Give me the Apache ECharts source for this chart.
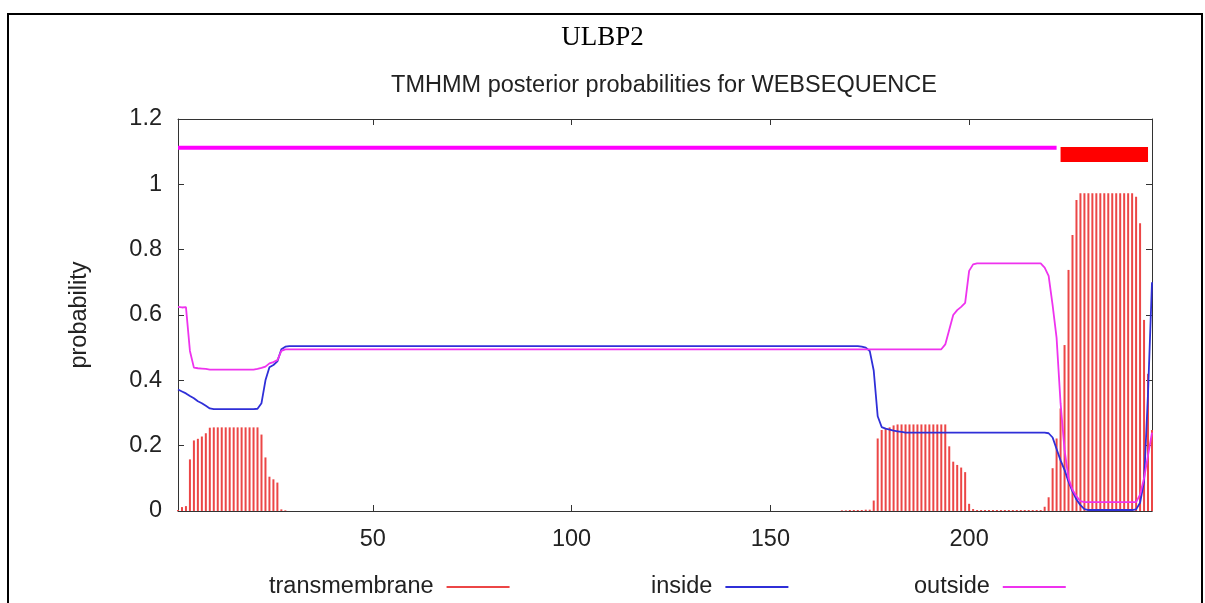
<!DOCTYPE html>
<html>
<head>
<meta charset="utf-8">
<script src="https://cdn.jsdelivr.net/npm/echarts@6/dist/echarts.min.js"></script>
<style>html,body{margin:0;padding:0;background:#fff}#c{width:1205px;height:603px}</style>
</head>
<body>
<div id="c"></div>
<script>
const chartTitle = 'ULBP2';
const chartSubtitle = 'TMHMM posterior probabilities for WEBSEQUENCE';
const yAxisName = 'probability';
const seqStart = 1;
const seqEnd = 246;
const xTickValues = [50, 100, 150, 200];
const seriesNames = ['transmembrane', 'inside', 'outside'];

// posterior probabilities, residues 1..246
const transmembrane = [
0.003,0.012,0.015,0.158,0.216,0.221,0.228,0.238,0.255,0.256,
0.256,0.256,0.256,0.256,0.256,0.256,0.256,0.256,0.256,0.256,
0.256,0.234,0.164,0.105,0.097,0.087,0.005,0.002,0,0,
0,0,0,0,0,0,0,0,0,0,
0,0,0,0,0,0,0,0,0,0,
0,0,0,0,0,0,0,0,0,0,
0,0,0,0,0,0,0,0,0,0,
0,0,0,0,0,0,0,0,0,0,
0,0,0,0,0,0,0,0,0,0,
0,0,0,0,0,0,0,0,0,0,
0,0,0,0,0,0,0,0,0,0,
0,0,0,0,0,0,0,0,0,0,
0,0,0,0,0,0,0,0,0,0,
0,0,0,0,0,0,0,0,0,0,
0,0,0,0,0,0,0,0,0,0,
0,0,0,0,0,0,0,0,0,0,
0,0,0,0,0,0,0,0.002,0.002,0.003,
0.003,0.003,0.003,0.004,0.004,0.032,0.222,0.248,0.252,0.256,
0.262,0.265,0.265,0.265,0.265,0.265,0.265,0.265,0.265,0.265,
0.265,0.265,0.265,0.265,0.198,0.151,0.141,0.133,0.119,0.022,
0.006,0.003,0.003,0.003,0.003,0.003,0.003,0.003,0.003,0.003,
0.003,0.003,0.003,0.003,0.003,0.003,0.003,0.003,0.013,0.042,
0.131,0.222,0.314,0.508,0.738,0.845,0.952,0.973,0.973,0.973,
0.973,0.973,0.973,0.973,0.973,0.973,0.973,0.973,0.973,0.973,
0.973,0.962,0.881,0.585,0.420,0.248
];

const inside = [
0.372,0.366,0.360,0.352,0.345,0.336,0.330,0.322,0.314,0.312,
0.312,0.312,0.312,0.312,0.312,0.312,0.312,0.312,0.312,0.312,
0.313,0.330,0.400,0.440,0.447,0.458,0.495,0.503,0.505,0.505,
0.505,0.505,0.505,0.505,0.505,0.505,0.505,0.505,0.505,0.505,
0.505,0.505,0.505,0.505,0.505,0.505,0.505,0.505,0.505,0.505,
0.505,0.505,0.505,0.505,0.505,0.505,0.505,0.505,0.505,0.505,
0.505,0.505,0.505,0.505,0.505,0.505,0.505,0.505,0.505,0.505,
0.505,0.505,0.505,0.505,0.505,0.505,0.505,0.505,0.505,0.505,
0.505,0.505,0.505,0.505,0.505,0.505,0.505,0.505,0.505,0.505,
0.505,0.505,0.505,0.505,0.505,0.505,0.505,0.505,0.505,0.505,
0.505,0.505,0.505,0.505,0.505,0.505,0.505,0.505,0.505,0.505,
0.505,0.505,0.505,0.505,0.505,0.505,0.505,0.505,0.505,0.505,
0.505,0.505,0.505,0.505,0.505,0.505,0.505,0.505,0.505,0.505,
0.505,0.505,0.505,0.505,0.505,0.505,0.505,0.505,0.505,0.505,
0.505,0.505,0.505,0.505,0.505,0.505,0.505,0.505,0.505,0.505,
0.505,0.505,0.505,0.505,0.505,0.505,0.505,0.505,0.505,0.505,
0.505,0.505,0.505,0.505,0.505,0.505,0.505,0.505,0.505,0.505,
0.505,0.505,0.503,0.500,0.490,0.430,0.290,0.257,0.252,0.249,
0.246,0.244,0.242,0.240,0.240,0.240,0.240,0.240,0.240,0.240,
0.240,0.240,0.240,0.240,0.240,0.240,0.240,0.240,0.240,0.240,
0.240,0.240,0.240,0.240,0.240,0.240,0.240,0.240,0.240,0.240,
0.240,0.240,0.240,0.240,0.240,0.240,0.240,0.240,0.240,0.238,
0.225,0.190,0.155,0.126,0.090,0.060,0.035,0.018,0.006,0.003,
0.003,0.003,0.003,0.003,0.003,0.003,0.003,0.003,0.003,0.003,
0.003,0.005,0.025,0.090,0.360,0.700
];

const outside = [
0.625,0.623,0.624,0.490,0.439,0.437,0.436,0.435,0.433,0.433,
0.433,0.433,0.433,0.433,0.433,0.433,0.433,0.433,0.433,0.433,
0.435,0.438,0.442,0.452,0.456,0.462,0.490,0.495,0.495,0.495,
0.495,0.495,0.495,0.495,0.495,0.495,0.495,0.495,0.495,0.495,
0.495,0.495,0.495,0.495,0.495,0.495,0.495,0.495,0.495,0.495,
0.495,0.495,0.495,0.495,0.495,0.495,0.495,0.495,0.495,0.495,
0.495,0.495,0.495,0.495,0.495,0.495,0.495,0.495,0.495,0.495,
0.495,0.495,0.495,0.495,0.495,0.495,0.495,0.495,0.495,0.495,
0.495,0.495,0.495,0.495,0.495,0.495,0.495,0.495,0.495,0.495,
0.495,0.495,0.495,0.495,0.495,0.495,0.495,0.495,0.495,0.495,
0.495,0.495,0.495,0.495,0.495,0.495,0.495,0.495,0.495,0.495,
0.495,0.495,0.495,0.495,0.495,0.495,0.495,0.495,0.495,0.495,
0.495,0.495,0.495,0.495,0.495,0.495,0.495,0.495,0.495,0.495,
0.495,0.495,0.495,0.495,0.495,0.495,0.495,0.495,0.495,0.495,
0.495,0.495,0.495,0.495,0.495,0.495,0.495,0.495,0.495,0.495,
0.495,0.495,0.495,0.495,0.495,0.495,0.495,0.495,0.495,0.495,
0.495,0.495,0.495,0.495,0.495,0.495,0.495,0.495,0.495,0.495,
0.495,0.495,0.495,0.495,0.495,0.495,0.495,0.495,0.495,0.495,
0.495,0.495,0.495,0.495,0.495,0.495,0.495,0.495,0.495,0.495,
0.495,0.495,0.495,0.510,0.555,0.600,0.615,0.625,0.637,0.735,
0.755,0.758,0.758,0.758,0.758,0.758,0.758,0.758,0.758,0.758,
0.758,0.758,0.758,0.758,0.758,0.758,0.758,0.758,0.745,0.720,
0.630,0.530,0.330,0.187,0.100,0.065,0.045,0.030,0.027,0.027,
0.027,0.027,0.027,0.027,0.027,0.027,0.027,0.027,0.027,0.027,
0.027,0.027,0.050,0.100,0.170,0.240
];

// predicted topology bars drawn above the curves
const topoOutsideRange = [1, 222];
const topoOutsideLevel = 1.112;
const topoTMRange = [223, 245];
const topoTMLevel = 1.091;

const FONT = 'Liberation Sans, Arial, sans-serif';
const TXT = '#222';
const FS = 23.5;
const toPairs = arr => arr.map((v, i) => [seqStart + i, v]);

const chart = echarts.init(document.getElementById('c'), null, {renderer: 'canvas'});
const legendCommon = {
  orient: 'horizontal', align: 'right', icon: 'rect', itemWidth: 63, itemHeight: 2,
  padding: 0, top: 575, selectedMode: false,
  textStyle: {fontFamily: FONT, fontSize: FS, color: TXT, padding: [0, 8, 0, 0]}
};
const option = {
  animation: false,
  backgroundColor: '#fff',
  title: [
    {text: chartTitle, left: 'center', top: 24, padding: 0,
     textStyle: {fontFamily: 'Liberation Serif, Times New Roman, serif', fontSize: 27, fontWeight: 'normal', color: '#000'}},
    {text: chartSubtitle, left: 664, textAlign: 'center', top: 74, padding: 0,
     textStyle: {fontFamily: FONT, fontSize: FS, fontWeight: 'normal', color: TXT}}
  ],
  legend: [
    Object.assign({}, legendCommon, {left: 269, data: [seriesNames[0]]}),
    Object.assign({}, legendCommon, {left: 651, data: [seriesNames[1]]}),
    Object.assign({}, legendCommon, {left: 914, data: [seriesNames[2]]})
  ],
  graphic: [{
    type: 'rect', silent: true, z: 100,
    shape: {x: 8, y: 14, width: 1194, height: 700},
    style: {fill: 'none', stroke: '#000', lineWidth: 2}
  }],
  grid: {left: 178, right: 53, top: 119, bottom: 92, containLabel: false},
  xAxis: [
    {type: 'value', min: seqStart, max: seqEnd, position: 'bottom',
     axisLine: {show: true, onZero: false, lineStyle: {color: '#333', width: 1}},
     axisTick: {show: true, inside: true, length: 6, customValues: xTickValues, lineStyle: {color: '#333'}},
     axisLabel: {show: true, customValues: xTickValues, margin: 17, fontFamily: FONT, fontSize: FS, color: TXT},
     splitLine: {show: false}},
    {type: 'value', min: seqStart, max: seqEnd, position: 'top',
     axisLine: {show: true, onZero: false, lineStyle: {color: '#333', width: 1}},
     axisTick: {show: true, inside: true, length: 6, customValues: xTickValues, lineStyle: {color: '#333'}},
     axisLabel: {show: false}, splitLine: {show: false}}
  ],
  yAxis: [
    {type: 'value', min: 0, max: 1.2, interval: 0.2, position: 'left',
     name: yAxisName, nameLocation: 'middle', nameGap: 86, nameRotate: 90,
     nameTextStyle: {fontFamily: FONT, fontSize: FS, color: TXT},
     axisLine: {show: true, onZero: false, lineStyle: {color: '#333', width: 1}},
     axisTick: {show: true, inside: true, length: 6, lineStyle: {color: '#333'}},
     axisLabel: {margin: 16, fontFamily: FONT, fontSize: FS, color: TXT,
       formatter: v => String(Math.round(v * 10) / 10)},
     splitLine: {show: false}},
    {type: 'value', min: 0, max: 1.2, interval: 0.2, position: 'right',
     axisLine: {show: true, onZero: false, lineStyle: {color: '#333', width: 1}},
     axisTick: {show: true, inside: true, length: 6, lineStyle: {color: '#333'}},
     axisLabel: {show: false}, splitLine: {show: false}}
  ],
  series: [
    {name: seriesNames[0], type: 'bar', xAxisIndex: 0, yAxisIndex: 0, barWidth: 2,
     color: '#ec4646', itemStyle: {color: '#ec4646'}, data: toPairs(transmembrane), z: 2, silent: true},
    {name: seriesNames[1], type: 'line', xAxisIndex: 0, yAxisIndex: 0, showSymbol: false, symbol: 'none',
     color: '#2f2fd8', lineStyle: {color: '#2f2fd8', width: 1.8}, data: toPairs(inside), z: 3, silent: true},
    {name: seriesNames[2], type: 'line', xAxisIndex: 0, yAxisIndex: 0, showSymbol: false, symbol: 'none',
     color: '#ee33ee', lineStyle: {color: '#ee33ee', width: 1.8}, data: toPairs(outside), z: 4, silent: true},
    {name: 'topology-outside', type: 'line', symbol: 'none', silent: true, z: 5,
     lineStyle: {color: '#ff00ff', width: 4, cap: 'butt'},
     data: topoOutsideRange.map(x => [x, topoOutsideLevel])},
    {name: 'topology-TM', type: 'line', symbol: 'none', silent: true, z: 5,
     lineStyle: {color: '#ff0000', width: 15, cap: 'butt'},
     data: topoTMRange.map(x => [x, topoTMLevel])}
  ]
};
chart.setOption(option);
</script>
</body>
</html>
